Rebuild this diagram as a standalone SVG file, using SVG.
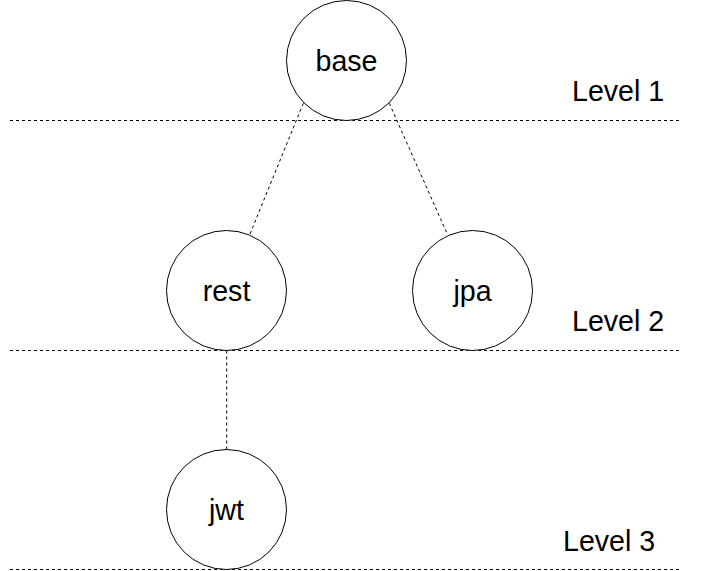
<svg xmlns="http://www.w3.org/2000/svg" width="703" height="571" viewBox="0 0 703 571">
<style>
.bg{fill:#ffffff}
.node circle{fill:#ffffff;stroke:#000000;stroke-width:1}
.lbl{font-family:"Liberation Sans",Arial,sans-serif;font-size:28.6px;fill:#000000}
.node text{text-anchor:middle}
.dash{stroke:#000000;stroke-width:1;stroke-dasharray:3 3;fill:none}
</style>
<rect class="bg" x="0" y="0" width="703" height="571"/>
<g id="levels">
<line class="dash" x1="10" y1="120.5" x2="680" y2="120.5"/>
<line class="dash" x1="10" y1="350.5" x2="680" y2="350.5"/>
<line class="dash" x1="10" y1="569.5" x2="680" y2="569.5"/>
<text class="lbl" x="572" y="101">Level 1</text>
<text class="lbl" x="572" y="331">Level 2</text>
<text class="lbl" x="563" y="551">Level 3</text>
</g>
<g id="connectors">
<line class="dash" x1="303.3" y1="103.3" x2="250" y2="234"/>
<line class="dash" x1="389.3" y1="103.3" x2="446.7" y2="232.7"/>
<line class="dash" x1="226.7" y1="350.5" x2="226.7" y2="450"/>
</g>
<g id="base" class="node">
<circle cx="346.5" cy="60.5" r="60"/>
<text class="lbl" x="346.5" y="70.5">base</text>
</g>
<g id="rest" class="node">
<circle cx="226.5" cy="290.5" r="60"/>
<text class="lbl" x="226.5" y="300.5">rest</text>
</g>
<g id="jpa" class="node">
<circle cx="472.5" cy="290.5" r="60"/>
<text class="lbl" x="472.5" y="300.5">jpa</text>
</g>
<g id="jwt" class="node">
<circle cx="226.5" cy="509.5" r="60"/>
<text class="lbl" x="226.5" y="519.5">jwt</text>
</g>
</svg>
